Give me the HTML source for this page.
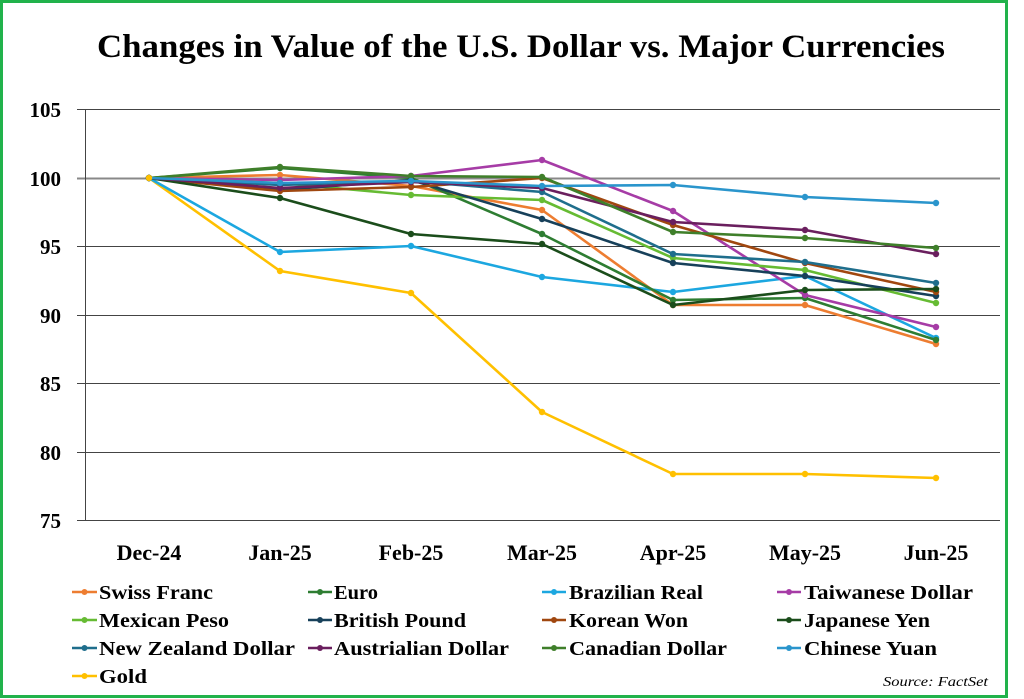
<!DOCTYPE html>
<html><head><meta charset="utf-8"><style>
html,body{margin:0;padding:0;background:#fff;}
svg{display:block;}
text{font-family:"Liberation Serif",serif;font-weight:bold;fill:#000;}
</style></head><body>
<svg width="1024" height="699" viewBox="0 0 1024 699" xmlns="http://www.w3.org/2000/svg">
<defs>
<marker id="m1" markerUnits="userSpaceOnUse" markerWidth="8" markerHeight="8" refX="4" refY="4"><circle cx="4" cy="4" r="3.2" fill="#ED7D31"/></marker>
<marker id="m2" markerUnits="userSpaceOnUse" markerWidth="8" markerHeight="8" refX="4" refY="4"><circle cx="4" cy="4" r="3.2" fill="#2E7D32"/></marker>
<marker id="m3" markerUnits="userSpaceOnUse" markerWidth="8" markerHeight="8" refX="4" refY="4"><circle cx="4" cy="4" r="3.2" fill="#1CA7E0"/></marker>
<marker id="m4" markerUnits="userSpaceOnUse" markerWidth="8" markerHeight="8" refX="4" refY="4"><circle cx="4" cy="4" r="3.2" fill="#A63CA6"/></marker>
<marker id="m5" markerUnits="userSpaceOnUse" markerWidth="8" markerHeight="8" refX="4" refY="4"><circle cx="4" cy="4" r="3.2" fill="#66BB33"/></marker>
<marker id="m6" markerUnits="userSpaceOnUse" markerWidth="8" markerHeight="8" refX="4" refY="4"><circle cx="4" cy="4" r="3.2" fill="#17405A"/></marker>
<marker id="m7" markerUnits="userSpaceOnUse" markerWidth="8" markerHeight="8" refX="4" refY="4"><circle cx="4" cy="4" r="3.2" fill="#A0470F"/></marker>
<marker id="m8" markerUnits="userSpaceOnUse" markerWidth="8" markerHeight="8" refX="4" refY="4"><circle cx="4" cy="4" r="3.2" fill="#1B4D1B"/></marker>
<marker id="m9" markerUnits="userSpaceOnUse" markerWidth="8" markerHeight="8" refX="4" refY="4"><circle cx="4" cy="4" r="3.2" fill="#1F6E8C"/></marker>
<marker id="m10" markerUnits="userSpaceOnUse" markerWidth="8" markerHeight="8" refX="4" refY="4"><circle cx="4" cy="4" r="3.2" fill="#6A1F5E"/></marker>
<marker id="m11" markerUnits="userSpaceOnUse" markerWidth="8" markerHeight="8" refX="4" refY="4"><circle cx="4" cy="4" r="3.2" fill="#3F7F2A"/></marker>
<marker id="m12" markerUnits="userSpaceOnUse" markerWidth="8" markerHeight="8" refX="4" refY="4"><circle cx="4" cy="4" r="3.2" fill="#2A95CC"/></marker>
<marker id="m13" markerUnits="userSpaceOnUse" markerWidth="8" markerHeight="8" refX="4" refY="4"><circle cx="4" cy="4" r="3.2" fill="#FFC000"/></marker>
</defs>
<rect x="1.5" y="1.5" width="1005" height="695" fill="#fff" stroke="#21B24B" stroke-width="3"/>
<text x="97" y="57" font-size="33" textLength="848" lengthAdjust="spacingAndGlyphs">Changes in Value of the U.S. Dollar vs. Major Currencies</text>
<g stroke="#444" stroke-width="1">
<line x1="77" y1="109.5" x2="1000" y2="109.5"/>
<line x1="77" y1="178.5" x2="1000" y2="178.5" stroke="#888" stroke-width="2"/>
<line x1="77" y1="246.5" x2="1000" y2="246.5"/>
<line x1="77" y1="315.5" x2="1000" y2="315.5"/>
<line x1="77" y1="383.5" x2="1000" y2="383.5"/>
<line x1="77" y1="452.5" x2="1000" y2="452.5"/>
<line x1="77" y1="520.5" x2="1000" y2="520.5"/>
<line x1="85.5" y1="109" x2="85.5" y2="521"/>
</g>
<g font-size="21" text-anchor="end">
<text x="61" y="117">105</text><text x="61" y="186">100</text><text x="61" y="254">95</text>
<text x="61" y="323">90</text><text x="61" y="391">85</text><text x="61" y="460">80</text><text x="61" y="528">75</text>
</g>
<g font-size="22" text-anchor="middle">
<text x="149" y="560">Dec-24</text><text x="280" y="560">Jan-25</text><text x="411" y="560">Feb-25</text>
<text x="542" y="560">Mar-25</text><text x="673" y="560">Apr-25</text><text x="805" y="560">May-25</text><text x="936" y="560">Jun-25</text>
</g>
<g fill="none" stroke-width="2.6" stroke-linejoin="round">
<polyline marker-start="url(#m13)" marker-mid="url(#m13)" marker-end="url(#m13)" stroke="#FFC000" points="149,178 280,271 411,293 542,412 673,474 805,474 936,478"/>
<polyline marker-start="url(#m3)" marker-mid="url(#m3)" marker-end="url(#m3)" stroke="#1CA7E0" points="149,178 280,252 411,246 542,277 673,292 805,276 936,338"/>
<polyline marker-start="url(#m1)" marker-mid="url(#m1)" marker-end="url(#m1)" stroke="#ED7D31" points="149,178 280,175 411,186 542,210 673,305 805,305 936,344"/>
<polyline marker-start="url(#m2)" marker-mid="url(#m2)" marker-end="url(#m2)" stroke="#2E7D32" points="149,178 280,168 411,178 542,234 673,300 805,298 936,340"/>
<polyline marker-start="url(#m4)" marker-mid="url(#m4)" marker-end="url(#m4)" stroke="#A63CA6" points="149,178 280,180 411,176 542,160 673,211 805,295 936,327"/>
<polyline marker-start="url(#m5)" marker-mid="url(#m5)" marker-end="url(#m5)" stroke="#66BB33" points="149,178 280,183 411,195 542,200 673,258 805,270 936,303"/>
<polyline marker-start="url(#m6)" marker-mid="url(#m6)" marker-end="url(#m6)" stroke="#17405A" points="149,178 280,190 411,180 542,219 673,263 805,276 936,296"/>
<polyline marker-start="url(#m7)" marker-mid="url(#m7)" marker-end="url(#m7)" stroke="#A0470F" points="149,178 280,191 411,187 542,178 673,225 805,263 936,292"/>
<polyline marker-start="url(#m8)" marker-mid="url(#m8)" marker-end="url(#m8)" stroke="#1B4D1B" points="149,178 280,198 411,234 542,244 673,305 805,290 936,289"/>
<polyline marker-start="url(#m9)" marker-mid="url(#m9)" marker-end="url(#m9)" stroke="#1F6E8C" points="149,178 280,185 411,181 542,192 673,254 805,262 936,283"/>
<polyline marker-start="url(#m10)" marker-mid="url(#m10)" marker-end="url(#m10)" stroke="#6A1F5E" points="149,178 280,188 411,182 542,188 673,222 805,230 936,254"/>
<polyline marker-start="url(#m11)" marker-mid="url(#m11)" marker-end="url(#m11)" stroke="#3F7F2A" points="149,178 280,167 411,176 542,177 673,232 805,238 936,248"/>
<polyline marker-start="url(#m12)" marker-mid="url(#m12)" marker-end="url(#m12)" stroke="#2A95CC" points="149,178 280,183 411,181 542,186 673,185 805,197 936,203"/>
<polyline marker-start="url(#m13)" stroke="#FFC000" points="149,178 150,178"/>
</g>
<g stroke-width="2.6">
<line x1="72" y1="592" x2="97" y2="592" stroke="#ED7D31"/><circle cx="84.5" cy="592" r="3" fill="#ED7D31"/>
<line x1="308" y1="592" x2="332" y2="592" stroke="#2E7D32"/><circle cx="320" cy="592" r="3" fill="#2E7D32"/>
<line x1="542" y1="592" x2="566" y2="592" stroke="#1CA7E0"/><circle cx="554" cy="592" r="3" fill="#1CA7E0"/>
<line x1="777" y1="592" x2="801" y2="592" stroke="#A63CA6"/><circle cx="789" cy="592" r="3" fill="#A63CA6"/>
<line x1="72" y1="620" x2="97" y2="620" stroke="#66BB33"/><circle cx="84.5" cy="620" r="3" fill="#66BB33"/>
<line x1="308" y1="620" x2="332" y2="620" stroke="#17405A"/><circle cx="320" cy="620" r="3" fill="#17405A"/>
<line x1="542" y1="620" x2="566" y2="620" stroke="#A0470F"/><circle cx="554" cy="620" r="3" fill="#A0470F"/>
<line x1="777" y1="620" x2="801" y2="620" stroke="#1B4D1B"/><circle cx="789" cy="620" r="3" fill="#1B4D1B"/>
<line x1="72" y1="648" x2="97" y2="648" stroke="#1F6E8C"/><circle cx="84.5" cy="648" r="3" fill="#1F6E8C"/>
<line x1="308" y1="648" x2="332" y2="648" stroke="#6A1F5E"/><circle cx="320" cy="648" r="3" fill="#6A1F5E"/>
<line x1="542" y1="648" x2="566" y2="648" stroke="#3F7F2A"/><circle cx="554" cy="648" r="3" fill="#3F7F2A"/>
<line x1="777" y1="648" x2="801" y2="648" stroke="#2A95CC"/><circle cx="789" cy="648" r="3" fill="#2A95CC"/>
<line x1="72" y1="676" x2="97" y2="676" stroke="#FFC000"/><circle cx="84.5" cy="676" r="3" fill="#FFC000"/>
</g>
<g font-size="20">
<text x="99" y="599" textLength="114" lengthAdjust="spacingAndGlyphs">Swiss Franc</text>
<text x="334" y="599" textLength="44" lengthAdjust="spacingAndGlyphs">Euro</text>
<text x="569" y="599" textLength="134" lengthAdjust="spacingAndGlyphs">Brazilian Real</text>
<text x="804" y="599" textLength="169" lengthAdjust="spacingAndGlyphs">Taiwanese Dollar</text>
<text x="99" y="627" textLength="130" lengthAdjust="spacingAndGlyphs">Mexican Peso</text>
<text x="334" y="627" textLength="132" lengthAdjust="spacingAndGlyphs">British Pound</text>
<text x="569" y="627" textLength="119" lengthAdjust="spacingAndGlyphs">Korean Won</text>
<text x="804" y="627" textLength="126" lengthAdjust="spacingAndGlyphs">Japanese Yen</text>
<text x="99" y="655" textLength="196" lengthAdjust="spacingAndGlyphs">New Zealand Dollar</text>
<text x="334" y="655" textLength="175" lengthAdjust="spacingAndGlyphs">Austrialian Dollar</text>
<text x="569" y="655" textLength="158" lengthAdjust="spacingAndGlyphs">Canadian Dollar</text>
<text x="804" y="655" textLength="133" lengthAdjust="spacingAndGlyphs">Chinese Yuan</text>
<text x="99" y="683" textLength="48" lengthAdjust="spacingAndGlyphs">Gold</text>
</g>
<text x="988" y="686" font-size="14" style="font-weight:normal;font-style:italic" text-anchor="end" textLength="105" lengthAdjust="spacingAndGlyphs">Source:  FactSet</text>
</svg>
</body></html>
